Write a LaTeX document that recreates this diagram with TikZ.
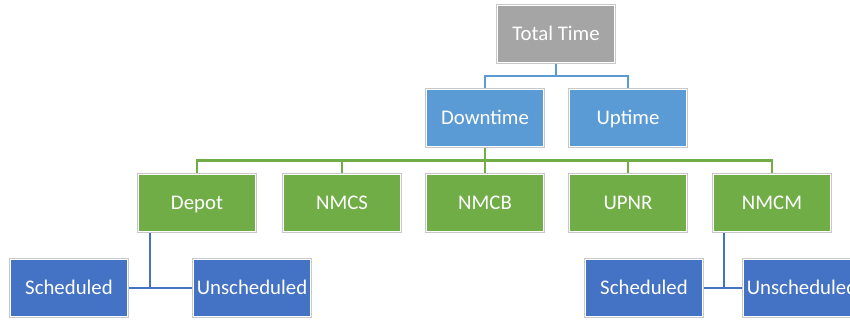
\documentclass[tikz,border=0pt]{standalone}
\usepackage{fontspec}
\setmainfont{Carlito}
\usetikzlibrary{calc,backgrounds}
\definecolor{boxgrey}{HTML}{A5A5A5}
\definecolor{boxsky}{HTML}{5B9BD5}
\definecolor{boxgreen}{HTML}{70AD47}
\definecolor{boxblue}{HTML}{4472C4}
\definecolor{edgegrey}{HTML}{C8C8C8}

\begin{document}
\begin{tikzpicture}[x=1pt,y=-1pt,
  box/.style={fill=#1,draw=white,line width=1.8pt,preaction={draw=edgegrey,line width=3.4pt},
    text=white,minimum width=117pt,minimum height=57pt,inner sep=0pt,text height=16pt,text depth=3pt,
    font=\fontsize{20.8}{24}\selectfont},
  link/.style={draw=#1,line width=2.2pt}]
\useasboundingbox (0,0) rectangle (850,322);
\begin{scope}
\clip (0,0) rectangle (850,322);
% top two levels
\node[box=boxgrey] (total) at (556,34) {Total Time};
\node[box=boxsky] (down) at (485,118) {Downtime};
\node[box=boxsky] (up) at (628,118) {Uptime};
% downtime categories
\foreach \name/\x/\txt in {depot/197/Depot, nmcs/342/NMCS, nmcb/485/NMCB, upnr/628/UPNR, nmcm/772/NMCM}
  \node[box=boxgreen] (\name) at (\x,203) {\txt};
% maintenance split
\node[box=boxblue] (schedA) at (69,288) {Scheduled};
\node[box=boxblue] (unschedA) at (252,288) {Unscheduled};
\node[box=boxblue] (schedB) at (644,288) {Scheduled};
\node[box=boxblue] (unschedB) at (802,288) {Unscheduled};
% connectors
\begin{scope}[on background layer]
\coordinate (busA) at ($(total.south)!0.5!(down.north)$);
\coordinate (busB) at ($(down.south)!0.5!(nmcb.north)$);
\foreach \name in {down,up}
  \draw[link=boxsky] (total.south) -- (total.south |- busA) -| (\name.north);
\foreach \name in {depot,nmcs,nmcb,upnr,nmcm}
  \draw[link=boxgreen] (down.south) -- (down.south |- busB) -| (\name.north);
\coordinate (dropA) at ($(depot.south west)+(12,0)$);
\coordinate (dropB) at ($(nmcm.south west)+(11,0)$);
\draw[link=boxblue] (dropA) |- (schedA.east);
\draw[link=boxblue] (dropA) |- (unschedA.west);
\draw[link=boxblue] (dropB) |- (schedB.east);
\draw[link=boxblue] (dropB) |- (unschedB.west);
\end{scope}
\end{scope}
\end{tikzpicture}
\end{document}
